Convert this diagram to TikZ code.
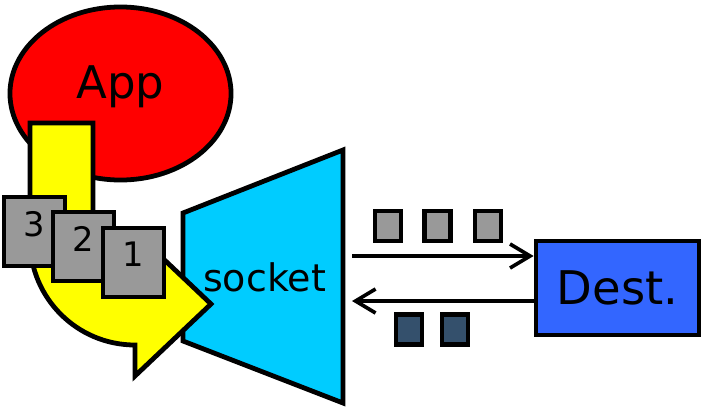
\documentclass[tikz,border=0pt]{standalone}
\usepackage{fontspec}
\setmainfont{DejaVu Sans}
\usetikzlibrary{shapes.geometric,arrows.meta}
\definecolor{appred}{HTML}{FF0000}
\definecolor{flowyellow}{HTML}{FFFF00}
\definecolor{socketcyan}{HTML}{00CCFF}
\definecolor{pktgray}{HTML}{999999}
\definecolor{ackblue}{HTML}{34506C}
\definecolor{destblue}{HTML}{3366FF}
\begin{document}
\begin{tikzpicture}[x=0.025cm, y=-0.025cm] % one unit = one pixel of the reference
\tikzstyle{outline} = [draw=black, line width=3.4pt]
\tikzstyle{pkt} = [outline, fill=pktgray, inner sep=0pt, minimum width=1.525cm, minimum height=1.725cm, text depth=0.4cm, font=\fontsize{24}{24}\selectfont]
\tikzstyle{seg} = [outline, fill=pktgray, inner sep=0pt, minimum width=0.65cm, minimum height=0.75cm]
\tikzstyle{ack} = [seg, fill=ackblue]
\tikzstyle{arrow} = [draw=black, line width=2.6pt, -{Straight Barb[length=0.5cm, width=0.6cm]}]

\useasboundingbox (0,0) rectangle (702,409);

% Application on top
\node[outline, ellipse, fill=appred, inner sep=0pt, minimum width=5.525cm, minimum height=4.325cm, text depth=0.55cm, font=\fontsize{32}{32}\selectfont] (App) at (120.5,93.5) {App};

% Socket (funnel)
\draw[outline, fill=socketcyan] (183,213) -- (343,150) -- (343,403) -- (183,341) -- cycle;
\node[font=\fontsize{27}{27}\selectfont] (Socket) at (264.5,277) {socket};

% Data flow from App into the socket
\draw[outline, fill=flowyellow] (30,123) -- (93,123) -- (93,240)
  .. controls (93,263.2) and (111.8,282) .. (135,282) -- (135,232) -- (211,304)
  -- (135,376) -- (135,345) .. controls (77,345) and (30,298) .. (30,240) -- cycle;

% Packets handed to the socket
\node[pkt] (Pkt3) at (34.5,231.5) {3};
\node[pkt] (Pkt2) at (83.5,246.5) {2};
\node[pkt] (Pkt1) at (133.5,262.5) {1};

% Destination
\node[outline, fill=destblue, inner sep=0pt, minimum width=4.075cm, minimum height=2.35cm, font=\fontsize{33}{33}\selectfont] (Dest) at (617.5,288) {Dest.};

% Segments on the wire
\node[seg] (SegA) at (388,226) {};
\node[seg] (SegB) at (437.5,226) {};
\node[seg] (SegC) at (488,226) {};
\node[ack] (AckA) at (409,329.5) {};
\node[ack] (AckB) at (455,329.5) {};

% Send and receive
\coordinate (SockTx) at (352,256);
\coordinate (SockRx) at (352,301);
\draw[arrow] (SockTx) -- (SockTx -| Dest.west);
\draw[arrow] (SockRx -| Dest.west) -- (SockRx);

\end{tikzpicture}
\end{document}
